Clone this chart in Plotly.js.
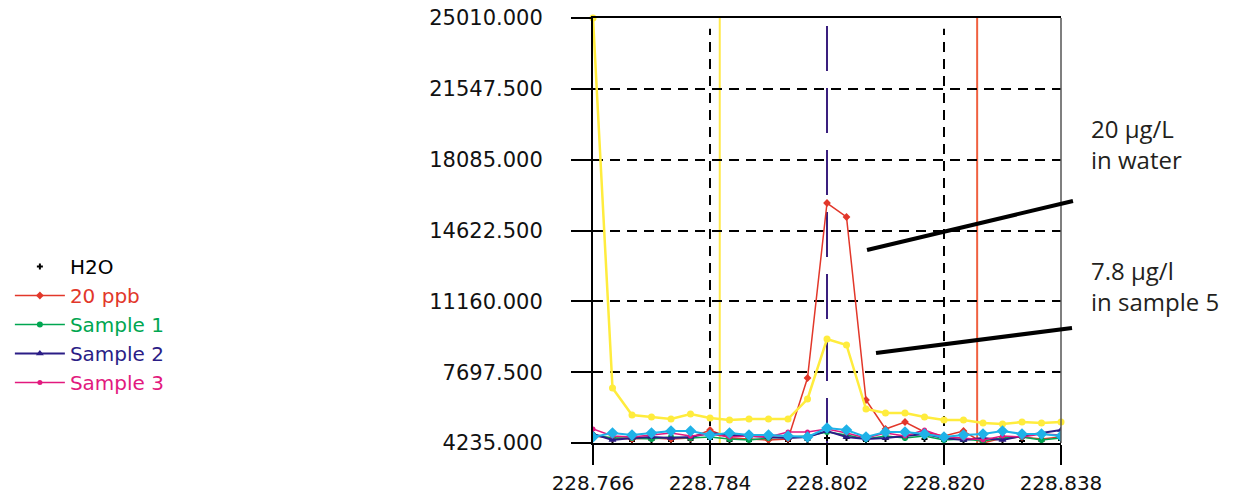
<!DOCTYPE html>
<html>
<head>
<meta charset="utf-8">
<script src="https://cdn.plot.ly/plotly-3.0.1.min.js"></script>
<style>html,body{margin:0;padding:0;background:#fff;}#chart{width:1235px;height:499px;}</style>
</head>
<body>
<div id="chart"></div>
<script>
// ---- data ----
const wavelength = [228.766,228.769,228.772,228.775,228.778,228.781,228.784,228.787,228.790,228.793,228.796,228.799,228.802,228.805,228.808,228.811,228.814,228.817,228.820,228.823,228.826,228.829,228.832,228.835,228.838];
const h2o      = [4528,4382,4333,4382,4333,4382,4431,4333,4333,4382,4333,4382,4479,4479,4333,4431,4479,4431,4333,4333,4333,4382,4333,4333,4382];
const ppb20    = [4577,4479,4430,4479,4430,4479,4870,4479,4430,4382,4430,7412,15966,15282,6337,4919,5261,4773,4577,4822,4235,4479,4528,4430,4528];
const sample1  = [4626,4479,4479,4431,4528,4479,4528,4431,4382,4479,4528,4577,4773,4626,4431,4577,4479,4577,4382,4431,4333,4479,4528,4382,4479];
const sample2  = [4675,4382,4479,4528,4479,4528,4724,4626,4577,4528,4479,4528,4822,4528,4431,4479,4577,4675,4479,4382,4479,4382,4577,4724,4870];
const sample3  = [4919,4577,4528,4626,4724,4577,4675,4528,4577,4528,4773,4773,4919,4724,4479,4724,4577,4870,4528,4479,4382,4577,4528,4675,4626];
const sample4  = [4528,4724,4626,4724,4822,4822,4626,4724,4626,4626,4577,4528,4968,4870,4528,4773,4773,4675,4528,4626,4675,4822,4675,4675,4577];
const sample5x = [228.763].concat(wavelength);
const sample5  = [7706,25010,6924,5604,5506,5408,5653,5457,5359,5408,5408,5408,6386,9319,9025,5897,5701,5701,5506,5359,5359,5213,5164,5261,5213,5261];
const seriesNames = ["H2O","20 ppb","Sample 1","Sample 2","Sample 3","Sample 4","Sample 5"];
const yTickVals = [4235,7697.5,11160,14622.5,18085,21547.5,25010];
const yTickText = ["4235.000","7697.500","11160.000","14622.500","18085.000","21547.500","25010.000"];
const xTickVals = [228.766,228.784,228.802,228.820,228.838];
const xTickText = ["228.766","228.784","228.802","228.820","228.838"];
const cursorX = {yellow:228.7855, purple:228.802, red:228.8251};
const labels = ["20 µg/L<br>in water","7.8 µg/l<br>in sample 5"];

// ---- styles ----
const colors = ["#000000","#e2372a","#00a651","#2b1d86","#e2197e","#1fb2e8","#ffec3d"];
function legName(i){ return '<span style="fill:'+colors[i]+'">'+seriesNames[i]+'</span>'; }

const traces = [
  {x:wavelength,y:h2o,name:legName(0),mode:'markers',marker:{symbol:'cross',size:5,color:colors[0]}},
  {x:wavelength,y:ppb20,name:legName(1),mode:'lines+markers',line:{color:colors[1],width:1.5},marker:{symbol:'diamond',size:6,color:colors[1]}},
  {x:wavelength,y:sample1,name:legName(2),mode:'lines+markers',line:{color:colors[2],width:1.5},marker:{symbol:'circle',size:6,color:colors[2]}},
  {x:wavelength,y:sample2,name:legName(3),mode:'lines+markers',line:{color:colors[3],width:2},marker:{symbol:'triangle-up',size:7,color:colors[3]}},
  {x:wavelength,y:sample3,name:legName(4),mode:'lines+markers',line:{color:colors[4],width:1.5},marker:{symbol:'circle',size:5,color:colors[4]}},
  {x:sample5x,y:sample5,name:seriesNames[6],showlegend:false,mode:'lines+markers',cliponaxis:false,line:{color:colors[6],width:2.5},marker:{symbol:'circle',size:7,color:colors[6]}},
  {x:wavelength,y:sample4,name:seriesNames[5],showlegend:false,mode:'lines+markers',line:{color:colors[5],width:2},marker:{symbol:'diamond',size:9,color:colors[5]}}
];

const shapes = [];
xTickVals.slice(1,-1).filter(v=>v!==cursorX.purple).forEach(v=>{
  shapes.push({type:'line',xref:'x',yref:'paper',x0:v,x1:v,y0:0,y1:0.975,layer:'below',line:{color:'#000',width:2,dash:'10px,7px'}});
});
shapes.push({type:'line',xref:'x',yref:'paper',x0:cursorX.yellow,x1:cursorX.yellow,y0:0,y1:1,layer:'below',line:{color:'#ffe84a',width:2}});
shapes.push({type:'line',xref:'x',yref:'paper',x0:cursorX.red,x1:cursorX.red,y0:0,y1:1,layer:'below',line:{color:'#f0603f',width:2}});
shapes.push({type:'line',xref:'x',yref:'paper',x0:cursorX.purple,x1:cursorX.purple,y0:0,y1:1,layer:'below',line:{color:'#3a1f7e',width:2,dash:'45px,17px'}});
shapes.push({type:'line',xref:'paper',yref:'paper',x0:1,x1:1,y0:0,y1:1,line:{color:'#555',width:1.5}});
shapes.push({type:'line',xref:'paper',yref:'paper',x0:0.5855,y0:0.4541,x1:1.0256,y1:0.5694,line:{color:'#000',width:4}});
shapes.push({type:'line',xref:'paper',yref:'paper',x0:0.6047,y0:0.2118,x1:1.0235,y1:0.2706,line:{color:'#000',width:4}});

const annFont = {family:'Open Sans, Noto Sans, sans-serif',size:24,color:'#231f20'};
const layout = {
  width:1235,height:499,
  margin:{l:593,r:174,t:18,b:56,pad:0},
  paper_bgcolor:'#fff',plot_bgcolor:'#fff',
  font:{family:'DejaVu Sans, sans-serif',size:20,color:'#111'},
  showlegend:true,
  legend:{xref:'container',yref:'container',x:0.008,y:0.505,xanchor:'left',yanchor:'top',
          font:{family:'DejaVu Sans, sans-serif',size:20},bgcolor:'rgba(0,0,0,0)',itemwidth:50,tracegroupgap:0},
  xaxis:{range:[228.766,228.838],tickvals:xTickVals,ticktext:xTickText,ticks:'outside',ticklen:20,tickwidth:2,tickcolor:'#000',
         tickfont:{size:20},
         showline:true,linecolor:'#000',linewidth:2,mirror:true,showgrid:false,zeroline:false,ticklabelstandoff:1},
  yaxis:{range:[4235,25010],tickvals:yTickVals,ticktext:yTickText,ticks:'outside',ticklen:20,tickwidth:2,tickcolor:'#000',
         tickfont:{size:21},
         showline:true,linecolor:'#000',linewidth:2,showgrid:true,gridcolor:'#000',gridwidth:2,griddash:'10px,7px',zeroline:false,ticklabelstandoff:24},
  shapes:shapes,
  annotations:[
    {xref:'paper',yref:'paper',x:1.06,y:0.703,xanchor:'left',yanchor:'middle',align:'left',showarrow:false,text:labels[0],font:annFont},
    {xref:'paper',yref:'paper',x:1.06,y:0.37,xanchor:'left',yanchor:'middle',align:'left',showarrow:false,text:labels[1],font:annFont}
  ]
};
Plotly.newPlot('chart',traces,layout,{displayModeBar:false,staticPlot:true});
</script>
</body>
</html>
